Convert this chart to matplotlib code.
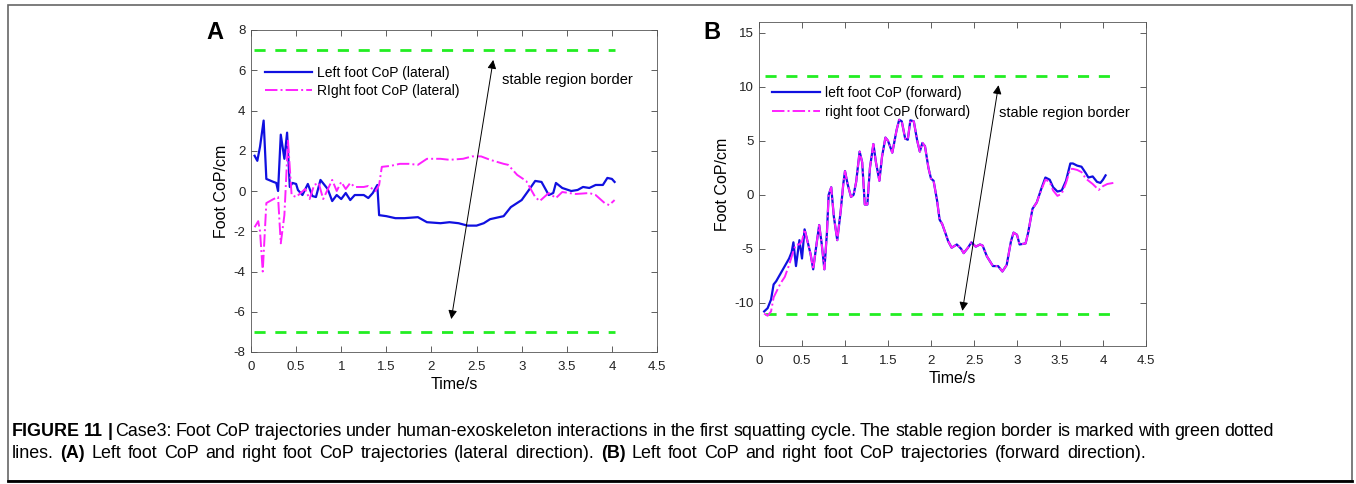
import matplotlib.pyplot as plt
from matplotlib.patches import Rectangle
import numpy as np

plt.rcParams['font.family'] = ['Liberation Sans', 'DejaVu Sans']
plt.rcParams['axes.unicode_minus'] = False

# ========== Panel A (lateral) ==========
tA_left = [0.04, 0.07, 0.10, 0.14, 0.17, 0.25, 0.28, 0.30, 0.33, 0.37, 0.40, 0.43, 0.46, 0.50,
           0.52, 0.57, 0.63, 0.68, 0.72, 0.77, 0.85, 0.90, 0.95, 1.00, 1.05, 1.10, 1.15, 1.25,
           1.30, 1.35, 1.40, 1.42, 1.50, 1.60, 1.70, 1.85, 1.95, 2.10, 2.20, 2.30, 2.40, 2.50,
           2.58, 2.65, 2.80, 2.88, 3.00, 3.08, 3.15, 3.22, 3.30, 3.35, 3.38, 3.45, 3.55, 3.62,
           3.68, 3.75, 3.82, 3.90, 3.95, 4.00, 4.03]
yA_left = [1.75, 1.5, 2.2, 3.5, 0.6, 0.45, 0.4, 0.0, 2.8, 1.6, 2.9, 0.2, 0.4, 0.35,
           0.05, -0.2, 0.35, -0.25, -0.3, 0.55, 0.1, -0.5, -0.2, -0.4, -0.1, -0.45, -0.2, -0.2,
           -0.35, -0.1, 0.3, -1.2, -1.25, -1.35, -1.35, -1.3, -1.55, -1.6, -1.55, -1.6, -1.72, -1.72,
           -1.6, -1.4, -1.25, -0.8, -0.45, 0.05, 0.5, 0.45, -0.2, -0.1, 0.4, 0.15, 0.0, 0.05,
           0.2, 0.15, 0.3, 0.3, 0.65, 0.6, 0.45]

tA_right = [0.04, 0.08, 0.10, 0.13, 0.17, 0.25, 0.30, 0.33, 0.37, 0.41, 0.45, 0.50, 0.60, 0.65,
            0.70, 0.75, 0.80, 0.90, 0.95, 1.00, 1.05, 1.10, 1.15, 1.25, 1.30, 1.38, 1.42, 1.45,
            1.55, 1.65, 1.75, 1.85, 1.95, 2.10, 2.20, 2.35, 2.45, 2.55, 2.65, 2.80, 2.85, 2.95,
            3.05, 3.15, 3.20, 3.30, 3.38, 3.45, 3.60, 3.75, 3.82, 3.92, 3.97, 4.03]
yA_right = [-1.8, -1.5, -2.0, -4.0, -0.6, -0.4, -0.3, -2.6, -1.2, 2.5, -0.2, -0.3, 0.1, -0.4,
            0.3, 0.4, -0.4, 0.55, 0.0, 0.45, 0.1, 0.4, 0.2, 0.2, 0.25, 0.0, 0.3, 1.2,
            1.25, 1.35, 1.35, 1.3, 1.6, 1.6, 1.55, 1.6, 1.72, 1.72, 1.55, 1.35, 1.3, 0.8,
            0.5, -0.3, -0.5, -0.1, -0.35, -0.05, -0.15, -0.1, -0.2, -0.6, -0.7, -0.45]

borderA = 7
borderA_span = [0.03, 4.04]

# ========== Panel B (forward) ==========
tB = [0.06, 0.10, 0.14, 0.17, 0.20, 0.25, 0.30, 0.35, 0.38, 0.40, 0.43, 0.47, 0.50, 0.53,
      0.57, 0.60, 0.63, 0.67, 0.70, 0.73, 0.76, 0.79, 0.81, 0.84, 0.87, 0.91, 0.95, 0.98,
      1.00, 1.03, 1.07, 1.10, 1.13, 1.17, 1.20, 1.23, 1.26, 1.29, 1.33, 1.36, 1.40, 1.43,
      1.47, 1.50, 1.55, 1.60, 1.63, 1.66, 1.70, 1.73, 1.76, 1.80, 1.84, 1.87, 1.90, 1.93,
      1.97, 2.00, 2.03, 2.07, 2.10, 2.13, 2.17, 2.20, 2.24, 2.30, 2.35, 2.38, 2.43, 2.47,
      2.52, 2.57, 2.60, 2.65, 2.72, 2.78, 2.83, 2.88, 2.93, 2.96, 3.00, 3.03, 3.10, 3.13,
      3.18, 3.23, 3.28, 3.33, 3.38, 3.42, 3.47, 3.52, 3.57, 3.62, 3.65, 3.70, 3.75, 3.80,
      3.83, 3.88, 3.93, 3.97, 4.00, 4.03]
yB_left = [-10.8, -10.5, -9.7, -8.3, -8.0, -7.3, -6.6, -5.9, -5.3, -4.4, -6.6, -4.2, -5.9, -3.2,
           -4.5, -5.5, -6.9, -4.5, -2.8, -4.6, -6.9, -3.5, 0.0, 0.7, -2.0, -4.2, -1.5, 1.0,
           2.2, 1.0, -0.2, 0.0, 1.2, 4.0, 3.0, -0.9, -0.9, 2.5, 4.7, 3.0, 1.3, 3.5,
           5.3, 5.0, 3.9, 6.0, 6.95, 6.8, 5.2, 5.1, 6.9, 6.8, 5.0, 4.0, 4.8, 4.5,
           2.5, 1.5, 1.3, -0.5, -2.3, -2.7, -3.6, -4.3, -4.9, -4.6, -5.0, -5.4, -4.9, -4.4,
           -4.8, -4.6, -4.7, -5.7, -6.6, -6.6, -7.1, -6.5, -4.3, -3.5, -3.7, -4.6, -4.5, -3.5,
           -1.3, -0.7, 0.5, 1.6, 1.4, 0.7, 0.3, 0.4, 1.3, 2.9, 2.9, 2.7, 2.6, 2.0,
           1.6, 1.7, 1.2, 1.1, 1.4, 1.8]

tB_right = [0.06, 0.10, 0.14, 0.17, 0.25, 0.30, 0.35, 0.40, 0.43, 0.47, 0.50, 0.53,
            0.57, 0.60, 0.63, 0.67, 0.70, 0.73, 0.76, 0.79, 0.81, 0.84, 0.87, 0.91, 0.95, 0.98,
            1.00, 1.03, 1.07, 1.10, 1.13, 1.17, 1.20, 1.23, 1.26, 1.29, 1.33, 1.36, 1.40, 1.43,
            1.47, 1.50, 1.55, 1.60, 1.63, 1.66, 1.70, 1.73, 1.76, 1.80, 1.84, 1.87, 1.90, 1.93,
            1.97, 2.00, 2.03, 2.07, 2.10, 2.13, 2.17, 2.20, 2.24, 2.30, 2.35, 2.38, 2.43, 2.47,
            2.52, 2.57, 2.60, 2.65, 2.72, 2.78, 2.83, 2.88, 2.93, 2.96, 3.00, 3.03, 3.10, 3.13,
            3.18, 3.23, 3.28, 3.33, 3.38, 3.42, 3.47, 3.52, 3.57, 3.62, 3.65, 3.70, 3.75, 3.80,
            3.88, 3.95, 4.00, 4.05, 4.12]
yB_right = [-11.0, -11.2, -10.8, -9.5, -8.2, -7.6, -6.5, -5.2, -4.6, -4.6, -4.3, -3.2,
            -4.5, -5.5, -6.9, -4.5, -2.8, -4.6, -6.9, -3.5, 0.0, 0.7, -2.0, -4.2, -1.5, 1.0,
            2.2, 1.0, -0.2, 0.0, 1.2, 4.0, 3.0, -0.9, -0.9, 2.5, 4.7, 3.0, 1.3, 3.5,
            5.3, 5.0, 3.9, 6.0, 6.95, 6.8, 5.2, 5.1, 6.9, 6.8, 5.0, 4.0, 4.8, 4.5,
            2.5, 1.5, 1.3, -0.5, -2.3, -2.7, -3.6, -4.3, -4.9, -4.6, -5.0, -5.4, -4.9, -4.4,
            -4.8, -4.6, -4.7, -5.7, -6.6, -6.6, -7.1, -6.5, -4.3, -3.5, -3.7, -4.6, -4.5, -3.5,
            -1.3, -0.7, 0.4, 1.4, 1.2, 0.4, -0.1, 0.1, 1.1, 2.4, 2.4, 2.3, 2.1, 1.5,
            1.0, 0.45, 0.8, 1.0, 1.1]

borderB = 11
borderB_span = [0.07, 4.13]

# caption pieces: (text, bold)
caption_head = ["FIGURE", "11", "|"]
caption_line1 = ("Case3: Foot CoP trajectories under human-exoskeleton interactions in the first squatting "
                 "cycle. The stable region border is marked with green dotted")
caption_line2 = [("lines.", False), ("(A)", True),
                 ("Left foot CoP and right foot CoP trajectories (lateral direction).", False),
                 ("(B)", True),
                 ("Left foot CoP and right foot CoP trajectories (forward direction).", False)]

# ========== 画图 ==========
W, H = 1356, 484
fig = plt.figure(figsize=(W / 100, H / 100), dpi=100)

def px_axes(l, r, t, b):
    return fig.add_axes([l / W, 1 - b / H, (r - l) / W, (b - t) / H])

def style(ax):
    ax.tick_params(direction='in', top=True, right=True, labelsize=9.5, length=4, width=0.6,
                   color='#444444', labelcolor='#222222')
    ax.tick_params(axis='x', pad=6.5)
    ax.tick_params(axis='y', pad=4)
    for s in ax.spines.values():
        s.set_linewidth(0.6)
        s.set_color('#555555')
    ax.set_xlim(0, 4.5)
    ax.set_xticks(np.arange(0, 4.51, 0.5))
    ax.set_xticklabels(['0', '0.5', '1', '1.5', '2', '2.5', '3', '3.5', '4', '4.5'])
    ax.set_xlabel("Time/s", fontsize=11.5, labelpad=3)
    ax.set_ylabel("Foot CoP/cm", fontsize=11.5, labelpad=3)

blue = '#1010e0'
mag = '#ff20ff'
green = '#22ee22'

# Panel A
axA = px_axes(251, 657, 30, 352)
style(axA)
axA.set_ylim(-8, 8)
axA.set_yticks(np.arange(-8, 8.1, 2))
axA.plot(borderA_span, [borderA, borderA], '--', color=green, lw=2, dashes=(4, 3.5))
axA.plot(borderA_span, [-borderA, -borderA], '--', color=green, lw=2, dashes=(4, 3.5))
lA1, = axA.plot(tA_left, yA_left, '-', color=blue, lw=1.6, label='Left foot CoP (lateral)')
lA2, = axA.plot(tA_right, yA_right, '-.', color=mag, lw=1.4, label='RIght foot CoP (lateral)')
axA.annotate('', xy=(2.69, 6.65), xytext=(2.215, -6.5),
             arrowprops=dict(arrowstyle='<|-|>', color='black', lw=0.7, mutation_scale=13))
axA.text(2.78, 5.5, 'stable region border', fontsize=10.5, va='center', ha='left')
axA.legend(handles=[lA1, lA2], loc='upper left', bbox_to_anchor=(0.02, 0.905), frameon=False,
           fontsize=10, handlelength=3.4, handletextpad=0.4, labelspacing=0.3, borderaxespad=0)

# Panel B
axB = px_axes(759, 1146, 22, 346)
style(axB)
axB.set_ylim(-14, 16)
axB.set_yticks([-10, -5, 0, 5, 10, 15])
axB.plot(borderB_span, [borderB, borderB], '--', color=green, lw=2, dashes=(4, 3.5))
axB.plot(borderB_span, [-borderB, -borderB], '--', color=green, lw=2, dashes=(4, 3.5))
lB1, = axB.plot(tB, yB_left, '-', color=blue, lw=1.6, label='left foot CoP (forward)')
lB2, = axB.plot(tB_right, yB_right, '-.', color=mag, lw=1.4, label='right foot CoP (forward)')
axB.annotate('', xy=(2.79, 10.4), xytext=(2.36, -11.0),
             arrowprops=dict(arrowstyle='<|-|>', color='black', lw=0.7, mutation_scale=13))
axB.text(2.79, 7.6, 'stable region border', fontsize=10.5, va='center', ha='left')
axB.legend(handles=[lB1, lB2], loc='upper left', bbox_to_anchor=(0.02, 0.82), frameon=False,
           fontsize=10, handlelength=3.4, handletextpad=0.4, labelspacing=0.35, borderaxespad=0)

# panel letters
fig.text(215 / W, 1 - 33 / H, 'A', fontsize=17, fontweight='bold', ha='center', va='center')
fig.text(712 / W, 1 - 33 / H, 'B', fontsize=17, fontweight='bold', ha='center', va='center')

# caption, word by word so the spacing can be opened up like the journal layout
cfs = 12.85
fig.canvas.draw()
r = fig.canvas.get_renderer()

def put(x, y_px, w, bold):
    t = fig.text(x / W, 1 - y_px / H, w, fontsize=cfs, fontweight='bold' if bold else 'normal',
                 va='baseline')
    return t.get_window_extent(r).x1

# line 1: bar sits close to "Case3"
x = 12.0
for w, gap in zip(caption_head, [4, 5, 2]):
    x = put(x, 436, w, True) + gap
for w in caption_line1.split(' '):
    x = put(x, 436, w, False) + 4.3

# line 2: wider word spacing
x = 12.0
for txt, bold in caption_line2:
    for w in txt.split(' '):
        x = put(x, 458.5, w, bold) + 6.5

# figure frame
fig.patches.append(Rectangle((8 / W, 1 - 481 / H), 1344 / W, 476 / H, transform=fig.transFigure,
                             fill=False, edgecolor='#666666', lw=1.2))
fig.add_artist(plt.Line2D([8 / W, 1352 / W], [1 - 481 / H, 1 - 481 / H], transform=fig.transFigure,
                          color='black', lw=2))

fig.savefig('out.png', dpi=100)
